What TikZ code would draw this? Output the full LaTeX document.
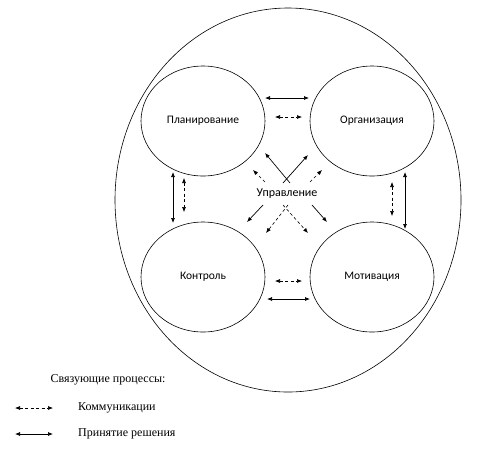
\documentclass[tikz,border=0pt]{standalone}
\usepackage{fontspec}
\setmainfont{Liberation Serif}
\newfontfamily\calfont{Carlito}
\usetikzlibrary{arrows.meta,shapes.geometric}
\begin{document}
\begin{tikzpicture}[x=1pt,y=-1pt,
  proc/.style={draw,ellipse,minimum width=124pt,minimum height=110pt,inner sep=0pt,line width=0.6pt,font=\calfont\fontsize{11.5}{13}\selectfont},
  solidarr/.style={<->,>={Latex[length=5pt,width=4pt]},line width=0.7pt},
  dasharr/.style={<->,>={Latex[length=5pt,width=4pt]},dash pattern=on 3pt off 2.5pt,line width=0.6pt},
  sarr/.style={->,>={Latex[length=5pt,width=4pt]},line width=0.7pt},
  darr/.style={->,>={Latex[length=5pt,width=4pt]},dash pattern=on 3pt off 2.5pt,line width=0.6pt},
  lbl/.style={font=\fontsize{12}{14}\selectfont,inner sep=0pt}]
\useasboundingbox (0,0) rectangle (494,456);
\node[draw,ellipse,minimum width=346pt,minimum height=384pt,inner sep=0pt,line width=0.6pt] (outer) at (288,200) {};
\node[proc] (plan) at (203,121) {Планирование};
\node[proc] (org) at (372,121) {Организация};
\node[proc] (ctrl) at (203,277) {Контроль};
\node[proc] (mot) at (372,277) {Мотивация};
\node[font=\calfont\fontsize{12}{14}\selectfont,inner sep=1pt] (upr) at (287,194) {Управление};
% horizontal
\coordinate (t1a) at (265,98); \coordinate (t1b) at (309,98);
\draw[solidarr] (t1a) -- (t1b);
\coordinate (t2a) at (275,117); \coordinate (t2b) at (302,117);
\draw[dasharr] (t2a) -- (t2b);
\coordinate (b1a) at (275,281); \coordinate (b1b) at (302,281);
\draw[dasharr] (b1a) -- (b1b);
\coordinate (b2a) at (267,299); \coordinate (b2b) at (310,299);
\draw[solidarr] (b2a) -- (b2b);
% vertical
\coordinate (l1a) at (173,172); \coordinate (l1b) at (173,223);
\draw[solidarr] (l1a) -- (l1b);
\coordinate (l2a) at (184,178); \coordinate (l2b) at (184,212);
\draw[dasharr] (l2a) -- (l2b);
\coordinate (r1a) at (392,182); \coordinate (r1b) at (392,216);
\draw[dasharr] (r1a) -- (r1b);
\coordinate (r2a) at (405,172); \coordinate (r2b) at (405,229);
\draw[solidarr] (r2a) -- (r2b);
% diagonals from centre
\coordinate (s1) at (290,183); \coordinate (s1e) at (265,153);
\draw[sarr] (s1) -- (s1e);
\coordinate (s2) at (283,183); \coordinate (s2e) at (308,155);
\draw[sarr] (s2) -- (s2e);
\coordinate (d1) at (265,182); \coordinate (d1e) at (253,170);
\draw[darr] (d1) -- (d1e);
\coordinate (d2) at (310,182); \coordinate (d2e) at (322,170);
\draw[darr] (d2) -- (d2e);
\coordinate (s3) at (263,205); \coordinate (s3e) at (247,222);
\draw[sarr] (s3) -- (s3e);
\coordinate (s4) at (312,205); \coordinate (s4e) at (327,222);
\draw[sarr] (s4) -- (s4e);
\coordinate (d3) at (288,205); \coordinate (d3e) at (266,233);
\draw[darr] (d3) -- (d3e);
\coordinate (d4) at (283,205); \coordinate (d4e) at (308,233);
\draw[darr] (d4) -- (d4e);
% legend
\node[lbl] (leg) at (108,380) {Связующие процессы:};
\coordinate (la1) at (15,408); \coordinate (la2) at (53,408);
\draw[dasharr] (la1) -- (la2);
\node[lbl,anchor=west] (comm) at (78,407.5) {Коммуникации};
\coordinate (lb1) at (15,434); \coordinate (lb2) at (53,434);
\draw[solidarr] (lb1) -- (lb2);
\node[lbl,anchor=west] (dec) at (78,433.5) {Принятие решения};
\end{tikzpicture}
\end{document}
